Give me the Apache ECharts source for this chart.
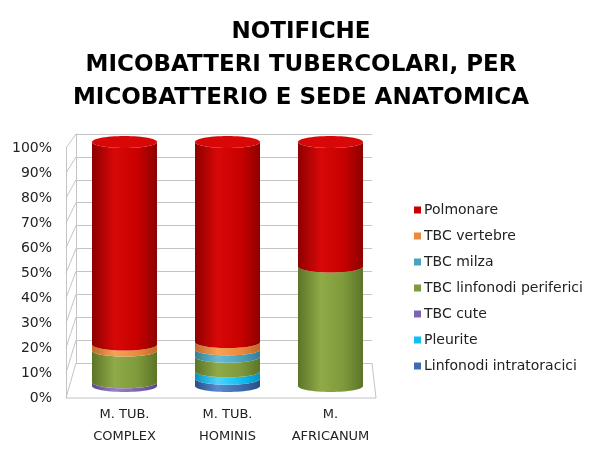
<!DOCTYPE html>
<html>
<head>
<meta charset="utf-8">
<script src="https://cdn.jsdelivr.net/npm/echarts@6/dist/echarts.min.js"></script>
<style>
  html, body { margin: 0; padding: 0; background: #fff; }
  #main { width: 602px; height: 451px; }
</style>
</head>
<body>
<div id="main"></div>
<script>
// dati (percentuali, ordine di impilamento dal basso verso l'alto)
var categories = ["M. TUB.\nCOMPLEX", "M. TUB.\nHOMINIS", "M.\nAFRICANUM"];
var intratoracici = [0, 3, 0];
var pleurite = [0, 3, 0];
var cute = [1.5, 0, 0];
var periferici = [13, 6, 49];
var milza = [0, 3, 0];
var vertebre = [2.5, 3, 0];
var polmonare = [83, 82, 51];

var legendOrder = ["Polmonare", "TBC vertebre", "TBC milza", "TBC linfonodi periferici", "TBC cute", "Pleurite", "Linfonodi intratoracici"];

// colori: [base, bordo scuro, riflesso]
var stack = [
    { name: "Linfonodi intratoracici", data: intratoracici, col: ["#3d6db0", "#2a4f86", "#5a8ad0"] },
    { name: "Pleurite", data: pleurite, col: ["#12bff0", "#0a92bd", "#4ad4ff"] },
    { name: "TBC cute", data: cute, col: ["#8064b4", "#5e4690", "#9a80cc"] },
    { name: "TBC linfonodi periferici", data: periferici, col: ["#7f9a3c", "#5c7428", "#90aa48"] },
    { name: "TBC milza", data: milza, col: ["#4aa3bd", "#337f96", "#66bcd4"] },
    { name: "TBC vertebre", data: vertebre, col: ["#ea8a3e", "#c0692a", "#f6a258"] },
    { name: "Polmonare", data: polmonare, col: ["#c80000", "#8e0000", "#d80808"] }
];

var RY = 6;

function ellipsePts(cx, cy, rx, ry, a0, a1, n){
    var pts = [];
    for (var i = 0; i <= n; i++) {
        var t = a0 + (a1 - a0) * i / n;
        pts.push([cx + rx * Math.cos(t), cy + ry * Math.sin(t)]);
    }
    return pts;
}

function makeRender(col){
    return function(params, api){
        var x = api.value(0), lo = api.value(1), hi = api.value(2), top = api.value(3);
        if (hi - lo <= 0) return;
        var pLo = api.coord([x, lo]), pHi = api.coord([x, hi]);
        var rx = 32.5, cx = pLo[0];
        var grad = new echarts.graphic.LinearGradient(0, 0, 1, 0, [
            { offset: 0, color: col[1] },
            { offset: 0.35, color: col[2] },
            { offset: 0.7, color: col[0] },
            { offset: 1, color: col[1] }
        ]);
        var pts = ellipsePts(cx, pHi[1], rx, RY, Math.PI, 0, 30)
            .concat(ellipsePts(cx, pLo[1], rx, RY, 0, Math.PI, 30));
        var children = [{ type: "polygon", shape: { points: pts }, style: { fill: grad } }];
        if (hi >= top - 0.001) {
            children.push({
                type: "polygon",
                shape: { points: ellipsePts(cx, pHi[1], rx, RY, 0, Math.PI * 2, 60) },
                style: { fill: col[2] }
            });
        }
        return { type: "group", children: children };
    };
}

var totals = categories.map(function(c, i){
    var s = 0;
    stack.forEach(function(st){ s += st.data[i]; });
    return s;
});

var series = [];
var cum = categories.map(function(){ return 0; });
stack.forEach(function(st){
    var d = [];
    st.data.forEach(function(v, i){
        d.push([i, cum[i], cum[i] + v, totals[i]]);
        cum[i] += v;
    });
    series.push({
        name: st.name,
        type: "custom",
        xAxisIndex: 2,
        yAxisIndex: 2,
        itemStyle: { color: st.col[0] },
        renderItem: makeRender(st.col),
        encode: { x: 0, y: [1, 2] },
        data: d,
        z: 5
    });
});

// cornice 3D
var front = { left: 66, right: 226, top: 148, bottom: 53 };
var back = { left: 76, right: 230, top: 134, bottom: 88 };

var myChart = echarts.init(document.getElementById("main"));

var option = {
    backgroundColor: "#fff",
    animation: false,
    title: {
        text: "NOTIFICHE\nMICOBATTERI TUBERCOLARI, PER\nMICOBATTERIO E SEDE ANATOMICA",
        left: "center",
        top: 11,
        textStyle: {
            fontFamily: "DejaVu Sans",
            fontSize: 23,
            fontWeight: "bold",
            color: "#000",
            lineHeight: 33
        }
    },
    legend: {
        orient: "vertical",
        left: 409,
        top: 198,
        itemWidth: 7,
        itemHeight: 7,
        itemGap: 12,
        icon: "rect",
        data: legendOrder,
        textStyle: { fontFamily: "DejaVu Sans", fontSize: 14, color: "#222", padding: [0, 0, 0, -2] }
    },
    grid: [
        { left: front.left, right: front.right, top: front.top, bottom: front.bottom },
        { left: back.left, right: back.right, top: back.top, bottom: back.bottom },
        { left: 73, right: 220, top: 142, bottom: 65 }
    ],
    xAxis: [
        { gridIndex: 0, type: "value", show: false },
        { gridIndex: 1, type: "value", show: false },
        {
            gridIndex: 2, type: "category", data: categories,
            axisLine: { show: false }, axisTick: { show: false },
            axisLabel: { margin: 18, lineHeight: 22, fontFamily: "DejaVu Sans", fontSize: 13, color: "#222" }
        }
    ],
    yAxis: [
        {
            gridIndex: 0, type: "value", min: 0, max: 100, interval: 10,
            axisLine: { show: true, lineStyle: { color: "#c4c4c4" } },
            axisTick: { show: false },
            splitLine: { show: false },
            axisLabel: { formatter: "{value}%", margin: 14, fontFamily: "DejaVu Sans", fontSize: 14, color: "#222" }
        },
        {
            gridIndex: 1, type: "value", min: 0, max: 100, interval: 10,
            axisLine: { show: true, lineStyle: { color: "#c4c4c4" } },
            axisTick: { show: false },
            axisLabel: { show: false },
            splitLine: { show: true, lineStyle: { color: "#c4c4c4" } }
        },
        { gridIndex: 2, type: "value", min: 0, max: 100, show: false }
    ],
    series: series
};

myChart.setOption(option);

// pareti laterali e pavimento dalla scala degli assi
var lines = [];
var fx = front.left, bx = back.left;
var fxr = 602 - front.right, bxr = 602 - back.right;
for (var v = 0; v <= 100; v += 10) {
    var yf = myChart.convertToPixel({ yAxisIndex: 0 }, v);
    var yb = myChart.convertToPixel({ yAxisIndex: 1 }, v);
    lines.push({ type: "line", shape: { x1: fx, y1: yf, x2: bx, y2: yb }, style: { stroke: "#c4c4c4", lineWidth: 1 }, z: 1 });
}
var y0f = myChart.convertToPixel({ yAxisIndex: 0 }, 0);
var y0b = myChart.convertToPixel({ yAxisIndex: 1 }, 0);
lines.push({ type: "line", shape: { x1: fx, y1: y0f, x2: fxr, y2: y0f }, style: { stroke: "#c4c4c4", lineWidth: 1 }, z: 1 });
lines.push({ type: "line", shape: { x1: fxr, y1: y0f, x2: bxr, y2: y0b }, style: { stroke: "#c4c4c4", lineWidth: 1 }, z: 1 });

myChart.setOption({ graphic: lines });
</script>
</body>
</html>
